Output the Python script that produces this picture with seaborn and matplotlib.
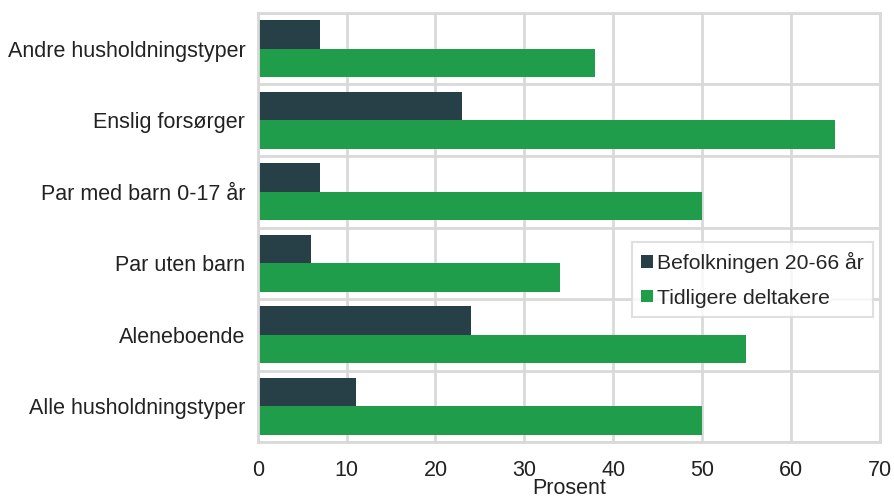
import pandas as pd
import matplotlib.pyplot as plt
import seaborn as sns

# data
kategorier = [
    "Andre husholdningstyper",
    "Enslig forsørger",
    "Par med barn 0-17 år",
    "Par uten barn",
    "Aleneboende",
    "Alle husholdningstyper",
]
befolkningen = [7, 23, 7, 6, 24, 11]
tidligere = [38, 65, 50, 34, 55, 50]
serier = ["Befolkningen 20-66 år", "Tidligere deltakere"]
farger = ["#274047", "#1f9d4a"]

df = pd.DataFrame({
    "kategori": kategorier * 2,
    "prosent": befolkningen + tidligere,
    "serie": [serier[0]] * len(kategorier) + [serier[1]] * len(kategorier),
})

sns.set_style("white")
plt.rcParams["font.family"] = ["Liberation Sans", "DejaVu Sans"]

fig = plt.figure(figsize=(8.95, 4.99), dpi=100)
ax = fig.add_axes([0.288, 0.114, 0.695, 0.860])

sns.barplot(
    data=df, y="kategori", x="prosent", hue="serie",
    order=kategorier, hue_order=serier, palette=farger,
    orient="h", width=0.8, saturation=1, linewidth=0, ax=ax,
)

ax.set_xlim(0, 70)
ax.set_xticks(range(0, 71, 10))
ax.set_ylim(len(kategorier) - 0.5, -0.5)
ax.set_yticks([i - 0.5 for i in range(len(kategorier) + 1)], minor=True)

ax.grid(False)
ax.xaxis.grid(True, color="#d9d9d9", linewidth=2)
ax.yaxis.grid(True, which="minor", color="#d9d9d9", linewidth=2)
ax.set_axisbelow(True)
for s in ax.spines.values():
    s.set_color("#d9d9d9")
    s.set_linewidth(2)

ax.tick_params(axis="both", which="both", length=0, labelsize=15.5, colors="#222222")
ax.tick_params(axis="x", pad=13)
ax.tick_params(axis="y", pad=9)
ax.set_ylabel("")
ax.set_xlabel("Prosent", fontsize=15.5, color="#222222", labelpad=-2)

leg = ax.legend(
    loc="upper left", bbox_to_anchor=(0.601, 0.466), borderaxespad=0,
    frameon=True, fancybox=False,
    fontsize=15.2, handlelength=0.55, handleheight=0.55, handletextpad=0.2,
    borderpad=0.45, labelspacing=0.75, edgecolor="#d9d9d9",
)
leg.get_frame().set_linewidth(1.5)

fig.savefig("out.png", dpi=100)
